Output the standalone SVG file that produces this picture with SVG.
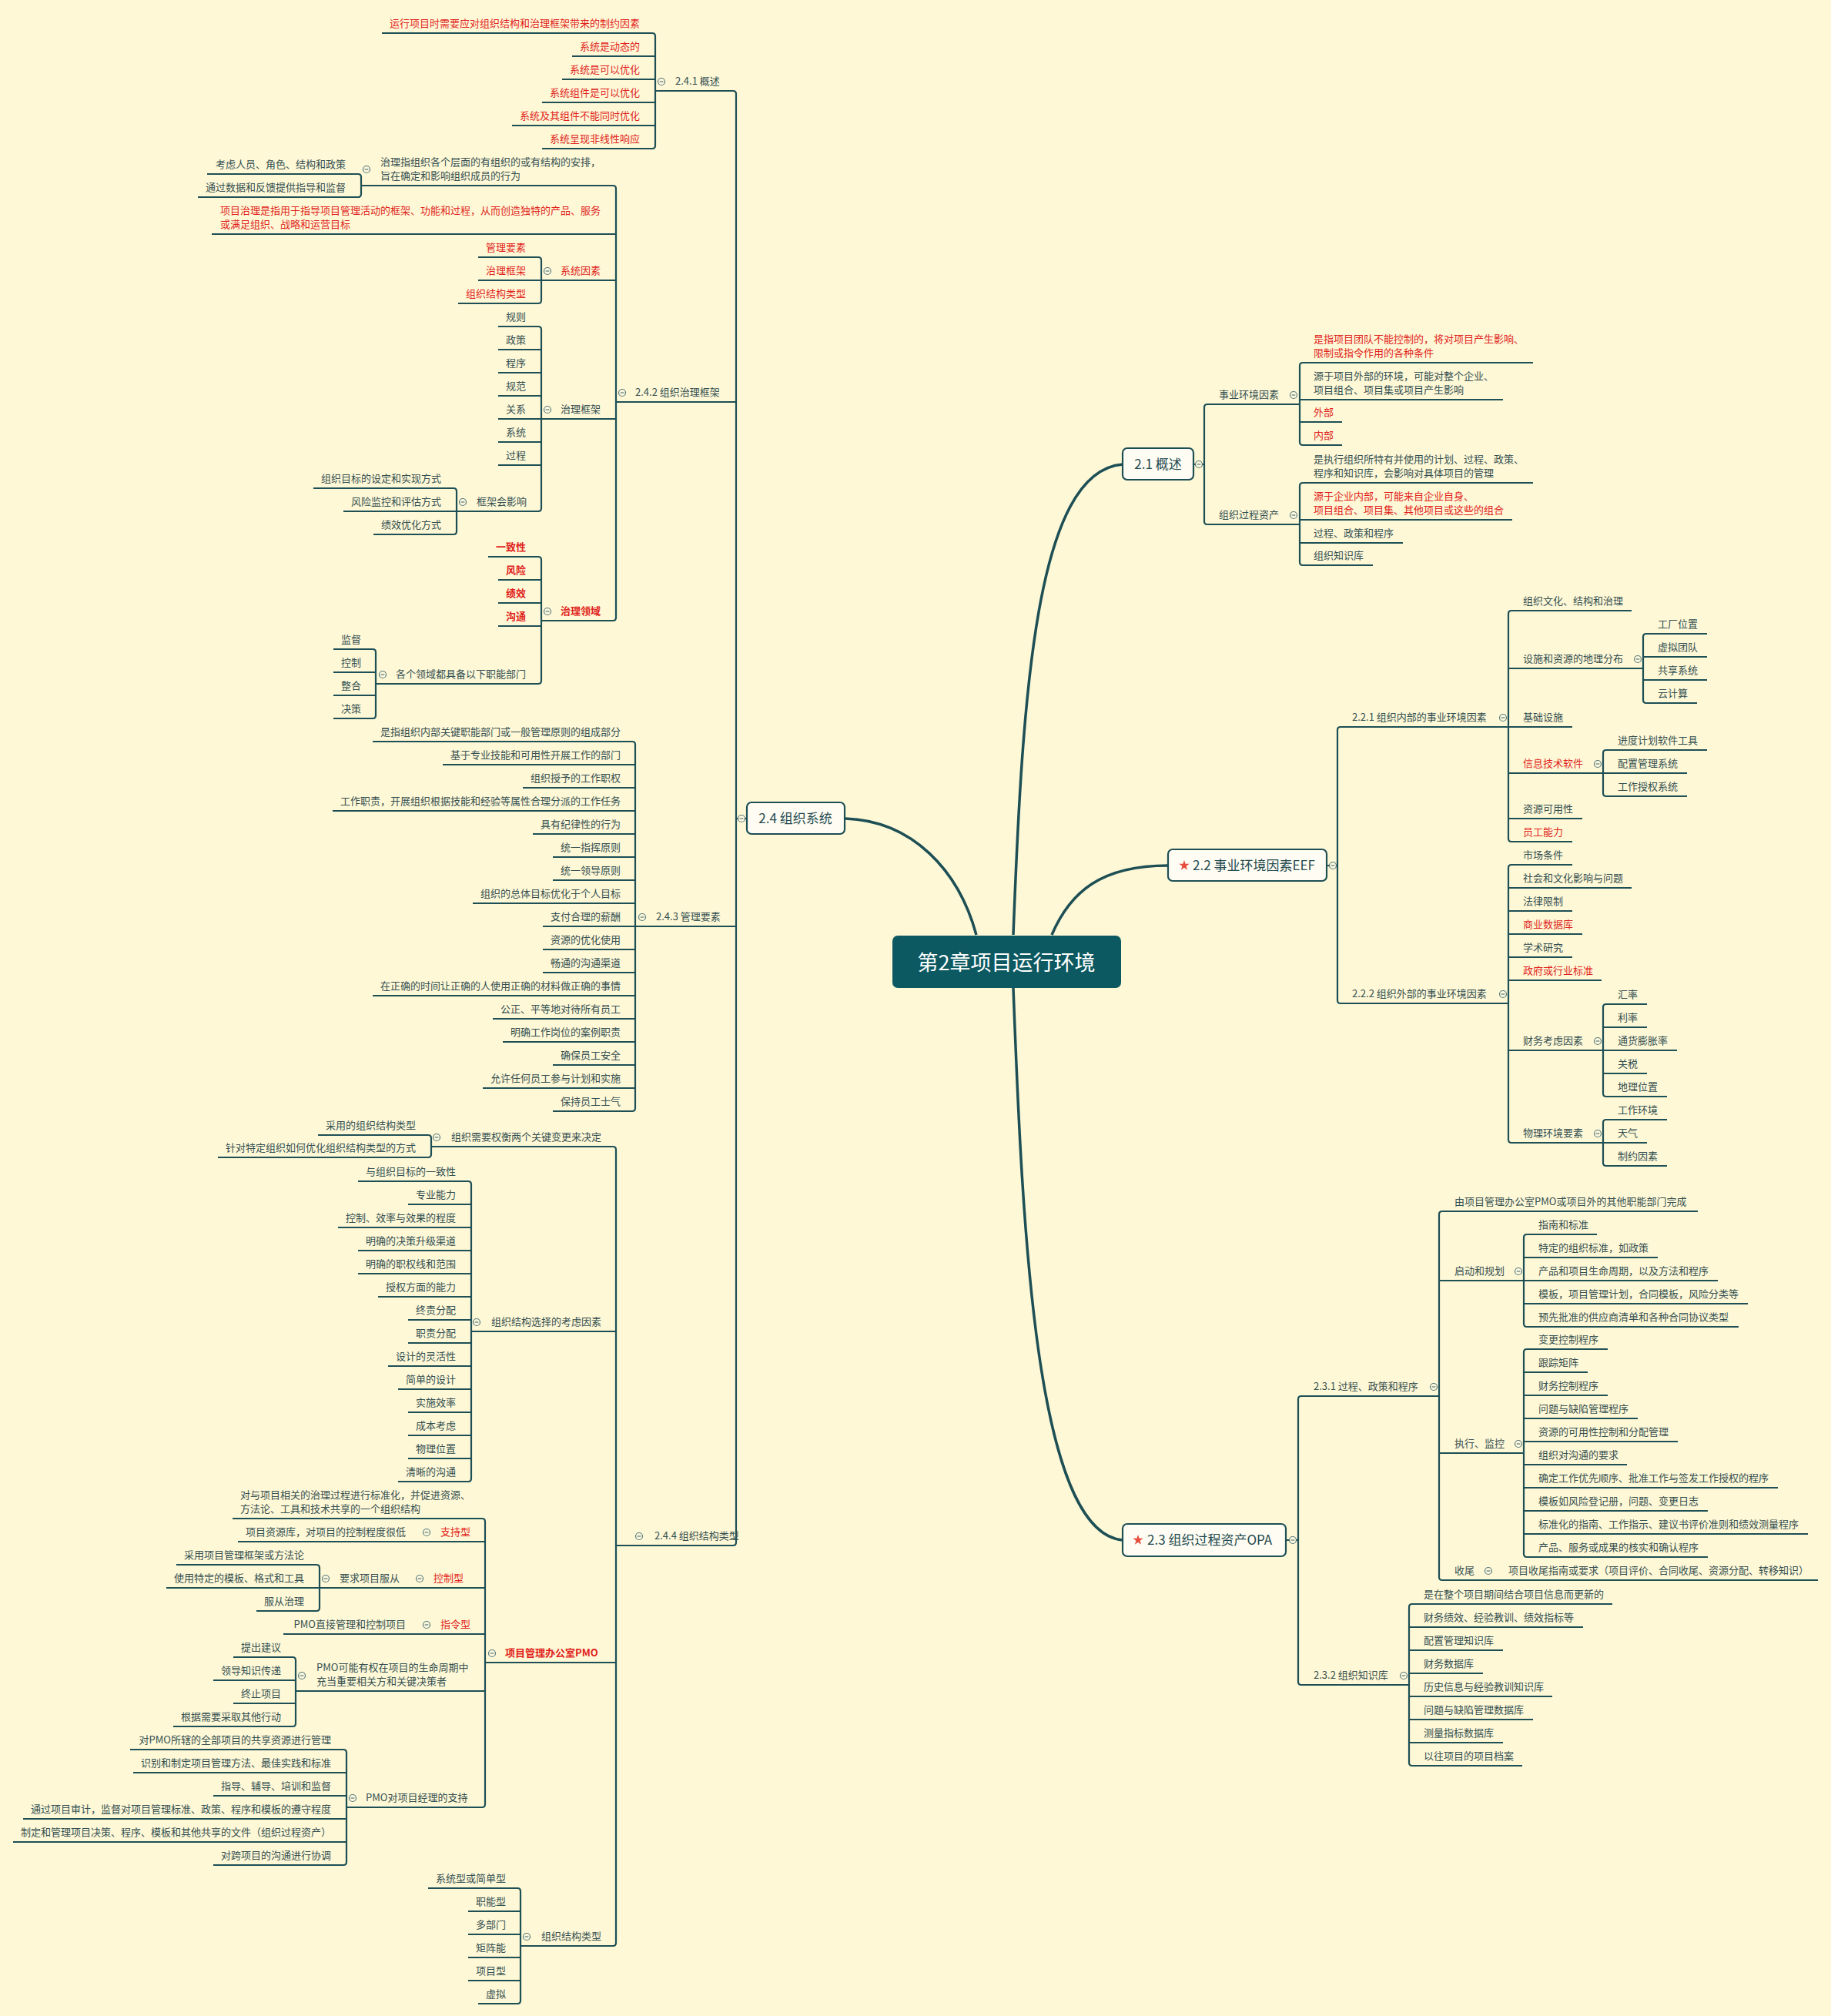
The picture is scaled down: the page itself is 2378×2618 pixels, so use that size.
<svg xmlns="http://www.w3.org/2000/svg" xmlns:xlink="http://www.w3.org/1999/xlink" width="2378" height="2618" viewBox="0 0 2378 2618">
<style>
.t{font-family:"Noto Sans CJK SC","Noto Sans",sans-serif;font-size:13px;fill:#344f50}
.e{text-anchor:end}
.r{fill:#e11f1b}
.b{font-weight:bold}
.m{font-size:17px;fill:#234a50}
.rt{font-family:"Noto Sans CJK SC","Noto Sans",sans-serif;font-size:27px;fill:#ffffff;text-anchor:middle}
.ln{fill:none;stroke:#1d4f55;stroke-width:2.2}
.cv{fill:none;stroke:#1d4f55;stroke-width:3.5}
.box{fill:#fffdf3;stroke:#1d4f55;stroke-width:2.2}
</style>
<defs>
<g id="c"><circle r="4.5" fill="#fdf8dc" stroke="#587a7c" stroke-width="1.2"/><path d="M-2.3,0H2.3" stroke="#587a7c" stroke-width="1.2"/></g>
<polygon id="star" points="0,-7 1.6,-2.2 6.7,-2.2 2.6,0.8 4.1,5.7 0,2.7 -4.1,5.7 -2.6,0.8 -6.7,-2.2 -1.6,-2.2" fill="#e74c3c"/>
</defs>
<rect width="2378" height="2618" fill="#fef8d7"/>

<g id="connectors">
<path class="cv" d="M1098,1063 C1185,1066 1245,1130 1268,1214"/>
<path class="cv" d="M1366,1214 C1390,1158 1430,1124 1517,1124"/>
<path class="cv" d="M1316,1214 C1328,900 1345,612 1458,603"/>
<path class="cv" d="M1316,1283 C1328,1600 1345,1990 1458,2000"/>
<!-- 2.4 -->
<path class="ln" d="M851,118 H952 Q956,118 956,122 V2003 Q956,2007 952,2007 H800 M800,522 H956 M825,1203 H956 M956,1063 H970"/>
<path class="ln" d="M496,43 H847 Q851,43 851,47 V189 Q851,193 847,193 H704 M743,73 H851 M730,103 H851 M704,133 H851 M665,163 H851"/>
<path class="ln" d="M469,241 H796 Q800,241 800,245 V802 Q800,806 796,806 H703 M275,304 H800 M703,364 H800 M703,544 H800"/>
<path class="ln" d="M269,226 H465 Q469,226 469,230 V252 Q469,256 465,256 H257"/>
<path class="ln" d="M621,334 H699 Q703,334 703,338 V390 Q703,394 699,394 H595 M621,364 H703"/>
<path class="ln" d="M647,424 H699 Q703,424 703,428 V660 Q703,664 699,664 H593 M647,454 H703 M647,484 H703 M647,514 H703 M647,544 H703 M647,574 H703 M647,604 H703"/>
<path class="ln" d="M407,634 H589 Q593,634 593,638 V690 Q593,694 589,694 H485 M446,664 H593"/>
<path class="ln" d="M634,723 H699 Q703,723 703,727 V884 Q703,888 699,888 H488 M647,753 H703 M647,783 H703 M647,813 H703"/>
<path class="ln" d="M433,843 H484 Q488,843 488,847 V929 Q488,933 484,933 H433 M433,873 H488 M433,903 H488"/>
<path class="ln" d="M484,963 H821 Q825,963 825,967 V1439 Q825,1443 821,1443 H718 M575,993 H825 M679,1023 H825 M432,1053 H825 M692,1083 H825 M718,1113 H825 M718,1143 H825 M614,1173 H825 M705,1203 H825 M705,1233 H825 M705,1263 H825 M484,1293 H825 M640,1323 H825 M653,1353 H825 M718,1383 H825 M627,1413 H825"/>
<path class="ln" d="M560,1489 H796 Q800,1489 800,1493 V2523 Q800,2527 796,2527 H676 M612,1729 H800 M630,2159 H800"/>
<path class="ln" d="M413,1474 H556 Q560,1474 560,1478 V1499 Q560,1503 556,1503 H283"/>
<path class="ln" d="M465,1534 H608 Q612,1534 612,1538 V1920 Q612,1924 608,1924 H517 M530,1564 H612 M439,1594 H612 M465,1624 H612 M465,1654 H612 M491,1684 H612 M530,1714 H612 M530,1744 H612 M504,1774 H612 M517,1804 H612 M530,1834 H612 M530,1864 H612 M530,1894 H612"/>
<path class="ln" d="M302,1972 H626 Q630,1972 630,1976 V2343 Q630,2347 626,2347 H450 M309,2002 H630 M415,2062 H630 M368,2122 H630 M384,2196 H630"/>
<path class="ln" d="M229,2032 H411 Q415,2032 415,2036 V2088 Q415,2092 411,2092 H333 M216,2062 H415"/>
<path class="ln" d="M303,2152 H380 Q384,2152 384,2156 V2238 Q384,2242 380,2242 H225 M277,2182 H384 M303,2212 H384"/>
<path class="ln" d="M169,2272 H446 Q450,2272 450,2276 V2418 Q450,2422 446,2422 H277 M173,2302 H450 M277,2332 H450 M30,2362 H450 M17,2392 H450"/>
<path class="ln" d="M556,2452 H672 Q676,2452 676,2456 V2598 Q676,2602 672,2602 H621 M608,2482 H676 M608,2512 H676 M608,2542 H676 M608,2572 H676"/>
<!-- 2.1 -->
<path class="ln" d="M1550,603 H1564 M1688,525 H1568 Q1564,525 1564,529 V677 Q1564,681 1568,681 H1688"/>
<path class="ln" d="M1991,471 H1692 Q1688,471 1688,475 V574 Q1688,578 1692,578 H1743 M1688,519 H1952 M1688,548 H1743"/>
<path class="ln" d="M1991,627 H1692 Q1688,627 1688,631 V730 Q1688,734 1692,734 H1783 M1688,675 H1964 M1688,705 H1822"/>
<!-- 2.2 -->
<path class="ln" d="M1723,1124 H1737 M1959,944 H1741 Q1737,944 1737,948 V1299 Q1737,1303 1741,1303 H1959"/>
<path class="ln" d="M2119,793 H1963 Q1959,793 1959,797 V1089 Q1959,1093 1963,1093 H2042 M1959,868 H2134 M1959,944 H2042 M1959,1004 H2082 M1959,1063 H2055"/>
<path class="ln" d="M2217,823 H2138 Q2134,823 2134,827 V909 Q2134,913 2138,913 H2204 M2134,853 H2217 M2134,883 H2217"/>
<path class="ln" d="M2217,974 H2086 Q2082,974 2082,978 V1030 Q2082,1034 2086,1034 H2191 M2082,1004 H2191"/>
<path class="ln" d="M2042,1123 H1963 Q1959,1123 1959,1127 V1480 Q1959,1484 1963,1484 H2082 M1959,1153 H2119 M1959,1183 H2042 M1959,1213 H2055 M1959,1243 H2042 M1959,1273 H2080 M1959,1364 H2082"/>
<path class="ln" d="M2139,1304 H2086 Q2082,1304 2082,1308 V1420 Q2082,1424 2086,1424 H2165 M2082,1334 H2139 M2082,1364 H2178 M2082,1394 H2139"/>
<path class="ln" d="M2165,1454 H2086 Q2082,1454 2082,1458 V1510 Q2082,1514 2086,1514 H2165 M2082,1484 H2139"/>
<!-- 2.3 -->
<path class="ln" d="M1670,2000 H1686 M1869,1813 H1690 Q1686,1813 1686,1817 V2184 Q1686,2188 1690,2188 H1830"/>
<path class="ln" d="M2205,1573 H1873 Q1869,1573 1869,1577 V2048 Q1869,2052 1873,2052 H2361 M1869,1663 H1979 M1869,1887 H1979"/>
<path class="ln" d="M2074,1603 H1983 Q1979,1603 1979,1607 V1719 Q1979,1723 1983,1723 H2258 M1979,1633 H2153 M1979,1663 H2231 M1979,1693 H2270"/>
<path class="ln" d="M2088,1752 H1983 Q1979,1752 1979,1756 V2018 Q1979,2022 1983,2022 H2218 M1979,1782 H2062 M1979,1812 H2088 M1979,1842 H2127 M1979,1872 H2179 M1979,1902 H2113 M1979,1932 H2309 M1979,1962 H2218 M1979,1992 H2348"/>
<path class="ln" d="M2094,2083 H1834 Q1830,2083 1830,2087 V2289 Q1830,2293 1834,2293 H1977 M1830,2113 H2056 M1830,2143 H1952 M1830,2173 H1926 M1830,2203 H2016 M1830,2233 H1991 M1830,2263 H1952"/>
<!-- collapse markers -->
<use href="#c" x="963" y="1063"/><use href="#c" x="859" y="106"/><use href="#c" x="808" y="510"/><use href="#c" x="476" y="220"/>
<use href="#c" x="711" y="352"/><use href="#c" x="711" y="532"/><use href="#c" x="601" y="652"/><use href="#c" x="711" y="794"/>
<use href="#c" x="497" y="876"/><use href="#c" x="834" y="1191"/><use href="#c" x="830" y="1995"/><use href="#c" x="567" y="1477"/>
<use href="#c" x="619" y="1717"/><use href="#c" x="639" y="2147"/><use href="#c" x="554" y="1990"/><use href="#c" x="545" y="2050"/>
<use href="#c" x="423" y="2050"/><use href="#c" x="554" y="2110"/><use href="#c" x="392" y="2176"/><use href="#c" x="458" y="2335"/>
<use href="#c" x="684" y="2515"/>
<use href="#c" x="1557" y="603"/><use href="#c" x="1680" y="513"/><use href="#c" x="1680" y="669"/><use href="#c" x="1731" y="1124"/>
<use href="#c" x="1952" y="932"/><use href="#c" x="2127" y="856"/><use href="#c" x="2075" y="992"/><use href="#c" x="1952" y="1291"/>
<use href="#c" x="2075" y="1352"/><use href="#c" x="2075" y="1472"/><use href="#c" x="1679" y="2000"/><use href="#c" x="1862" y="1801"/>
<use href="#c" x="1972" y="1651"/><use href="#c" x="1972" y="1875"/><use href="#c" x="1933" y="2040"/><use href="#c" x="1823" y="2176"/>
</g>

<g id="root"><rect x="1159" y="1215" width="297" height="68" rx="7" fill="#0c5961"/><text class="rt" x="1307" y="1260">第2章项目运行环境</text></g>

<g id="n21"><rect class="box" x="1458" y="582" width="92" height="41" rx="6"/><text class="t m" x="1504" y="609" text-anchor="middle">2.1 概述</text></g>
<g id="n22"><rect class="box" x="1517" y="1103" width="206" height="41" rx="6"/><use href="#star" x="1538" y="1124"/><text class="t m" x="1549" y="1130">2.2 事业环境因素EEF</text></g>
<g id="n23"><rect class="box" x="1458" y="1979" width="212" height="42" rx="6"/><use href="#star" x="1478" y="2000"/><text class="t m" x="1490" y="2006">2.3 组织过程资产OPA</text></g>
<g id="n24"><rect class="box" x="970" y="1042" width="127" height="41" rx="6"/><text class="t m" x="1033" y="1069" text-anchor="middle">2.4 组织系统</text></g>

<!-- 2.4.1 -->
<g id="n241"><text class="t" x="877" y="110">2.4.1 概述</text></g>
<g id="n241a"><text class="t e r" x="831" y="35">运行项目时需要应对组织结构和治理框架带来的制约因素</text></g>
<g id="n241b"><text class="t e r" x="831" y="65">系统是动态的</text></g>
<g id="n241c"><text class="t e r" x="831" y="95">系统是可以优化</text></g>
<g id="n241d"><text class="t e r" x="831" y="125">系统组件是可以优化</text></g>
<g id="n241e"><text class="t e r" x="831" y="155">系统及其组件不能同时优化</text></g>
<g id="n241f"><text class="t e r" x="831" y="185">系统呈现非线性响应</text></g>

<!-- 2.4.2 -->
<g id="n242"><text class="t" x="825" y="514">2.4.2 组织治理框架</text></g>
<g id="n242a"><text class="t" x="494" y="215">治理指组织各个层面的有组织的或有结构的安排，</text><text class="t" x="494" y="233">旨在确定和影响组织成员的行为</text></g>
<g id="n242a1"><text class="t e" x="449" y="218">考虑人员、角色、结构和政策</text></g>
<g id="n242a2"><text class="t e" x="449" y="248">通过数据和反馈提供指导和监督</text></g>
<g id="n242b"><text class="t r" x="286" y="278">项目治理是指用于指导项目管理活动的框架、功能和过程，从而创造独特的产品、服务</text><text class="t r" x="286" y="296">或满足组织、战略和运营目标</text></g>
<g id="n242c"><text class="t r" x="728" y="356">系统因素</text></g>
<g id="n242c1"><text class="t e r" x="683" y="326">管理要素</text></g>
<g id="n242c2"><text class="t e r" x="683" y="356">治理框架</text></g>
<g id="n242c3"><text class="t e r" x="683" y="386">组织结构类型</text></g>
<g id="n242d"><text class="t" x="728" y="536">治理框架</text></g>
<g id="n242d1"><text class="t e" x="683" y="416">规则</text></g>
<g id="n242d2"><text class="t e" x="683" y="446">政策</text></g>
<g id="n242d3"><text class="t e" x="683" y="476">程序</text></g>
<g id="n242d4"><text class="t e" x="683" y="506">规范</text></g>
<g id="n242d5"><text class="t e" x="683" y="536">关系</text></g>
<g id="n242d6"><text class="t e" x="683" y="566">系统</text></g>
<g id="n242d7"><text class="t e" x="683" y="596">过程</text></g>
<g id="n242d8"><text class="t" x="619" y="656">框架会影响</text></g>
<g id="n242d8a"><text class="t e" x="573" y="626">组织目标的设定和实现方式</text></g>
<g id="n242d8b"><text class="t e" x="573" y="656">风险监控和评估方式</text></g>
<g id="n242d8c"><text class="t e" x="573" y="686">绩效优化方式</text></g>
<g id="n242e"><text class="t r b" x="728" y="798">治理领域</text></g>
<g id="n242e1"><text class="t e r b" x="683" y="715">一致性</text></g>
<g id="n242e2"><text class="t e r b" x="683" y="745">风险</text></g>
<g id="n242e3"><text class="t e r b" x="683" y="775">绩效</text></g>
<g id="n242e4"><text class="t e r b" x="683" y="805">沟通</text></g>
<g id="n242e5"><text class="t" x="514" y="880">各个领域都具备以下职能部门</text></g>
<g id="n242e5a"><text class="t e" x="469" y="835">监督</text></g>
<g id="n242e5b"><text class="t e" x="469" y="865">控制</text></g>
<g id="n242e5c"><text class="t e" x="469" y="895">整合</text></g>
<g id="n242e5d"><text class="t e" x="469" y="925">决策</text></g>

<!-- 2.4.3 -->
<g id="n243"><text class="t" x="852" y="1195">2.4.3 管理要素</text></g>
<g id="n243a"><text class="t e" x="806" y="955">是指组织内部关键职能部门或一般管理原则的组成部分</text></g>
<g id="n243b"><text class="t e" x="806" y="985">基于专业技能和可用性开展工作的部门</text></g>
<g id="n243c"><text class="t e" x="806" y="1015">组织授予的工作职权</text></g>
<g id="n243d"><text class="t e" x="806" y="1045">工作职责，开展组织根据技能和经验等属性合理分派的工作任务</text></g>
<g id="n243e"><text class="t e" x="806" y="1075">具有纪律性的行为</text></g>
<g id="n243f"><text class="t e" x="806" y="1105">统一指挥原则</text></g>
<g id="n243g"><text class="t e" x="806" y="1135">统一领导原则</text></g>
<g id="n243h"><text class="t e" x="806" y="1165">组织的总体目标优化于个人目标</text></g>
<g id="n243i"><text class="t e" x="806" y="1195">支付合理的薪酬</text></g>
<g id="n243j"><text class="t e" x="806" y="1225">资源的优化使用</text></g>
<g id="n243k"><text class="t e" x="806" y="1255">畅通的沟通渠道</text></g>
<g id="n243l"><text class="t e" x="806" y="1285">在正确的时间让正确的人使用正确的材料做正确的事情</text></g>
<g id="n243m"><text class="t e" x="806" y="1315">公正、平等地对待所有员工</text></g>
<g id="n243n"><text class="t e" x="806" y="1345">明确工作岗位的案例职责</text></g>
<g id="n243o"><text class="t e" x="806" y="1375">确保员工安全</text></g>
<g id="n243p"><text class="t e" x="806" y="1405">允许任何员工参与计划和实施</text></g>
<g id="n243q"><text class="t e" x="806" y="1435">保持员工士气</text></g>

<!-- 2.4.4 -->
<g id="n244"><text class="t" x="850" y="1999">2.4.4 组织结构类型</text></g>
<g id="n244a"><text class="t" x="586" y="1481">组织需要权衡两个关键变更来决定</text></g>
<g id="n244a1"><text class="t e" x="540" y="1466">采用的组织结构类型</text></g>
<g id="n244a2"><text class="t e" x="540" y="1495">针对特定组织如何优化组织结构类型的方式</text></g>
<g id="n244b"><text class="t" x="638" y="1721">组织结构选择的考虑因素</text></g>
<g id="n244b1"><text class="t e" x="592" y="1526">与组织目标的一致性</text></g>
<g id="n244b2"><text class="t e" x="592" y="1556">专业能力</text></g>
<g id="n244b3"><text class="t e" x="592" y="1586">控制、效率与效果的程度</text></g>
<g id="n244b4"><text class="t e" x="592" y="1616">明确的决策升级渠道</text></g>
<g id="n244b5"><text class="t e" x="592" y="1646">明确的职权线和范围</text></g>
<g id="n244b6"><text class="t e" x="592" y="1676">授权方面的能力</text></g>
<g id="n244b7"><text class="t e" x="592" y="1706">终责分配</text></g>
<g id="n244b8"><text class="t e" x="592" y="1736">职责分配</text></g>
<g id="n244b9"><text class="t e" x="592" y="1766">设计的灵活性</text></g>
<g id="n244b10"><text class="t e" x="592" y="1796">简单的设计</text></g>
<g id="n244b11"><text class="t e" x="592" y="1826">实施效率</text></g>
<g id="n244b12"><text class="t e" x="592" y="1856">成本考虑</text></g>
<g id="n244b13"><text class="t e" x="592" y="1886">物理位置</text></g>
<g id="n244b14"><text class="t e" x="592" y="1916">清晰的沟通</text></g>
<g id="n244c"><text class="t r b" x="656" y="2151">项目管理办公室PMO</text></g>
<g id="n244c1"><text class="t" x="312" y="1946">对与项目相关的治理过程进行标准化，并促进资源、</text><text class="t" x="312" y="1964">方法论、工具和技术共享的一个组织结构</text></g>
<g id="n244c2"><text class="t r" x="572" y="1994">支持型</text></g>
<g id="n244c2a"><text class="t e" x="527" y="1994">项目资源库，对项目的控制程度很低</text></g>
<g id="n244c3"><text class="t r" x="563" y="2054">控制型</text></g>
<g id="n244c3a"><text class="t" x="441" y="2054">要求项目服从</text></g>
<g id="n244c3a1"><text class="t e" x="395" y="2024">采用项目管理框架或方法论</text></g>
<g id="n244c3a2"><text class="t e" x="395" y="2054">使用特定的模板、格式和工具</text></g>
<g id="n244c3a3"><text class="t e" x="395" y="2084">服从治理</text></g>
<g id="n244c4"><text class="t r" x="572" y="2114">指令型</text></g>
<g id="n244c4a"><text class="t e" x="527" y="2114">PMO直接管理和控制项目</text></g>
<g id="n244c5"><text class="t" x="411" y="2170">PMO可能有权在项目的生命周期中</text><text class="t" x="411" y="2188">充当重要相关方和关键决策者</text></g>
<g id="n244c5a"><text class="t e" x="365" y="2144">提出建议</text></g>
<g id="n244c5b"><text class="t e" x="365" y="2174">领导知识传递</text></g>
<g id="n244c5c"><text class="t e" x="365" y="2204">终止项目</text></g>
<g id="n244c5d"><text class="t e" x="365" y="2234">根据需要采取其他行动</text></g>
<g id="n244c6"><text class="t" x="475" y="2339">PMO对项目经理的支持</text></g>
<g id="n244c6a"><text class="t e" x="430" y="2264">对PMO所辖的全部项目的共享资源进行管理</text></g>
<g id="n244c6b"><text class="t e" x="430" y="2294">识别和制定项目管理方法、最佳实践和标准</text></g>
<g id="n244c6c"><text class="t e" x="430" y="2324">指导、辅导、培训和监督</text></g>
<g id="n244c6d"><text class="t e" x="430" y="2354">通过项目审计，监督对项目管理标准、政策、程序和模板的遵守程度</text></g>
<g id="n244c6e"><text class="t e" x="430" y="2384">制定和管理项目决策、程序、模板和其他共享的文件（组织过程资产）</text></g>
<g id="n244c6f"><text class="t e" x="430" y="2414">对跨项目的沟通进行协调</text></g>
<g id="n244d"><text class="t" x="703" y="2519">组织结构类型</text></g>
<g id="n244d1"><text class="t e" x="657" y="2444">系统型或简单型</text></g>
<g id="n244d2"><text class="t e" x="657" y="2474">职能型</text></g>
<g id="n244d3"><text class="t e" x="657" y="2504">多部门</text></g>
<g id="n244d4"><text class="t e" x="657" y="2534">矩阵能</text></g>
<g id="n244d5"><text class="t e" x="657" y="2564">项目型</text></g>
<g id="n244d6"><text class="t e" x="657" y="2594">虚拟</text></g>

<!-- 2.1 -->
<g id="n21a"><text class="t" x="1583" y="517">事业环境因素</text></g>
<g id="n21a1"><text class="t r" x="1706" y="445">是指项目团队不能控制的，将对项目产生影响、</text><text class="t r" x="1706" y="463">限制或指令作用的各种条件</text></g>
<g id="n21a2"><text class="t" x="1706" y="493">源于项目外部的环境，可能对整个企业、</text><text class="t" x="1706" y="511">项目组合、项目集或项目产生影响</text></g>
<g id="n21a3"><text class="t r" x="1706" y="540">外部</text></g>
<g id="n21a4"><text class="t r" x="1706" y="570">内部</text></g>
<g id="n21b"><text class="t" x="1583" y="673">组织过程资产</text></g>
<g id="n21b1"><text class="t" x="1706" y="601">是执行组织所特有并使用的计划、过程、政策、</text><text class="t" x="1706" y="619">程序和知识库，会影响对具体项目的管理</text></g>
<g id="n21b2"><text class="t r" x="1706" y="649">源于企业内部，可能来自企业自身、</text><text class="t r" x="1706" y="667">项目组合、项目集、其他项目或这些的组合</text></g>
<g id="n21b3"><text class="t" x="1706" y="697">过程、政策和程序</text></g>
<g id="n21b4"><text class="t" x="1706" y="726">组织知识库</text></g>

<!-- 2.2 -->
<g id="n221"><text class="t" x="1756" y="936">2.2.1 组织内部的事业环境因素</text></g>
<g id="n221a"><text class="t" x="1978" y="785">组织文化、结构和治理</text></g>
<g id="n221b"><text class="t" x="1978" y="860">设施和资源的地理分布</text></g>
<g id="n221b1"><text class="t" x="2153" y="815">工厂位置</text></g>
<g id="n221b2"><text class="t" x="2153" y="845">虚拟团队</text></g>
<g id="n221b3"><text class="t" x="2153" y="875">共享系统</text></g>
<g id="n221b4"><text class="t" x="2153" y="905">云计算</text></g>
<g id="n221c"><text class="t" x="1978" y="936">基础设施</text></g>
<g id="n221d"><text class="t r" x="1978" y="996">信息技术软件</text></g>
<g id="n221d1"><text class="t" x="2101" y="966">进度计划软件工具</text></g>
<g id="n221d2"><text class="t" x="2101" y="996">配置管理系统</text></g>
<g id="n221d3"><text class="t" x="2101" y="1026">工作授权系统</text></g>
<g id="n221e"><text class="t" x="1978" y="1055">资源可用性</text></g>
<g id="n221f"><text class="t r" x="1978" y="1085">员工能力</text></g>
<g id="n222"><text class="t" x="1756" y="1295">2.2.2 组织外部的事业环境因素</text></g>
<g id="n222a"><text class="t" x="1978" y="1115">市场条件</text></g>
<g id="n222b"><text class="t" x="1978" y="1145">社会和文化影响与问题</text></g>
<g id="n222c"><text class="t" x="1978" y="1175">法律限制</text></g>
<g id="n222d"><text class="t r" x="1978" y="1205">商业数据库</text></g>
<g id="n222e"><text class="t" x="1978" y="1235">学术研究</text></g>
<g id="n222f"><text class="t r" x="1978" y="1265">政府或行业标准</text></g>
<g id="n222g"><text class="t" x="1978" y="1356">财务考虑因素</text></g>
<g id="n222g1"><text class="t" x="2101" y="1296">汇率</text></g>
<g id="n222g2"><text class="t" x="2101" y="1326">利率</text></g>
<g id="n222g3"><text class="t" x="2101" y="1356">通货膨胀率</text></g>
<g id="n222g4"><text class="t" x="2101" y="1386">关税</text></g>
<g id="n222g5"><text class="t" x="2101" y="1416">地理位置</text></g>
<g id="n222h"><text class="t" x="1978" y="1476">物理环境要素</text></g>
<g id="n222h1"><text class="t" x="2101" y="1446">工作环境</text></g>
<g id="n222h2"><text class="t" x="2101" y="1476">天气</text></g>
<g id="n222h3"><text class="t" x="2101" y="1506">制约因素</text></g>

<!-- 2.3 -->
<g id="n231"><text class="t" x="1706" y="1805">2.3.1 过程、政策和程序</text></g>
<g id="n231a"><text class="t" x="1889" y="1565">由项目管理办公室PMO或项目外的其他职能部门完成</text></g>
<g id="n231b"><text class="t" x="1889" y="1655">启动和规划</text></g>
<g id="n231b1"><text class="t" x="1998" y="1595">指南和标准</text></g>
<g id="n231b2"><text class="t" x="1998" y="1625">特定的组织标准，如政策</text></g>
<g id="n231b3"><text class="t" x="1998" y="1655">产品和项目生命周期，以及方法和程序</text></g>
<g id="n231b4"><text class="t" x="1998" y="1685">模板，项目管理计划，合同模板，风险分类等</text></g>
<g id="n231b5"><text class="t" x="1998" y="1715">预先批准的供应商清单和各种合同协议类型</text></g>
<g id="n231c"><text class="t" x="1889" y="1879">执行、监控</text></g>
<g id="n231c1"><text class="t" x="1998" y="1744">变更控制程序</text></g>
<g id="n231c2"><text class="t" x="1998" y="1774">跟踪矩阵</text></g>
<g id="n231c3"><text class="t" x="1998" y="1804">财务控制程序</text></g>
<g id="n231c4"><text class="t" x="1998" y="1834">问题与缺陷管理程序</text></g>
<g id="n231c5"><text class="t" x="1998" y="1864">资源的可用性控制和分配管理</text></g>
<g id="n231c6"><text class="t" x="1998" y="1894">组织对沟通的要求</text></g>
<g id="n231c7"><text class="t" x="1998" y="1924">确定工作优先顺序、批准工作与签发工作授权的程序</text></g>
<g id="n231c8"><text class="t" x="1998" y="1954">模板如风险登记册，问题、变更日志</text></g>
<g id="n231c9"><text class="t" x="1998" y="1984">标准化的指南、工作指示、建议书评价准则和绩效测量程序</text></g>
<g id="n231c10"><text class="t" x="1998" y="2014">产品、服务或成果的核实和确认程序</text></g>
<g id="n231d"><text class="t" x="1889" y="2044">收尾</text></g>
<g id="n231d1"><text class="t" x="1959" y="2044">项目收尾指南或要求（项目评价、合同收尾、资源分配、转移知识）</text></g>
<g id="n232"><text class="t" x="1706" y="2180">2.3.2 组织知识库</text></g>
<g id="n232a"><text class="t" x="1849" y="2075">是在整个项目期间结合项目信息而更新的</text></g>
<g id="n232b"><text class="t" x="1849" y="2105">财务绩效、经验教训、绩效指标等</text></g>
<g id="n232c"><text class="t" x="1849" y="2135">配置管理知识库</text></g>
<g id="n232d"><text class="t" x="1849" y="2165">财务数据库</text></g>
<g id="n232e"><text class="t" x="1849" y="2195">历史信息与经验教训知识库</text></g>
<g id="n232f"><text class="t" x="1849" y="2225">问题与缺陷管理数据库</text></g>
<g id="n232g"><text class="t" x="1849" y="2255">测量指标数据库</text></g>
<g id="n232h"><text class="t" x="1849" y="2285">以往项目的项目档案</text></g>
</svg>
